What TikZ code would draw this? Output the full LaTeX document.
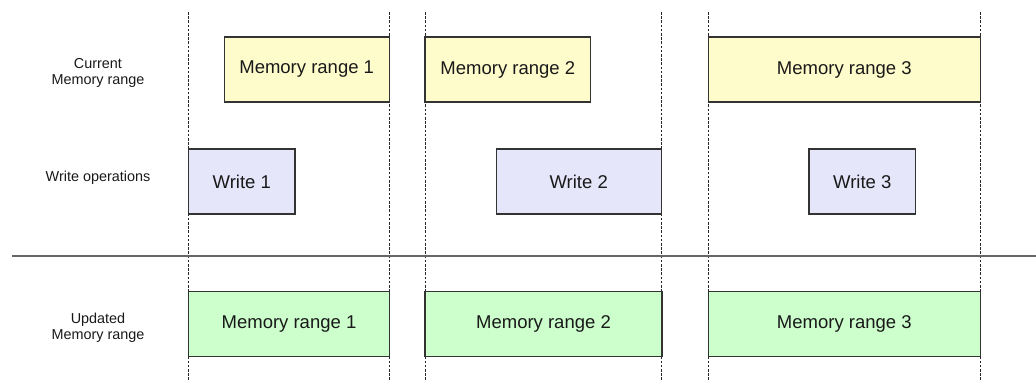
\documentclass[tikz,border=0pt]{standalone}
\usepackage{fontspec}
\setmainfont{Liberation Sans}
\begin{document}
\begin{tikzpicture}[x=1pt,y=-1pt,
  rangebox/.style={draw=black!80, line width=1.1pt, inner sep=0pt, minimum height=65pt,
    font=\fontsize{18.5}{22}\selectfont, text=black!90},
  current/.style={rangebox, fill=yellow!20},
  writeop/.style={rangebox, fill={rgb,255:red,230;green,230;blue,250}},
  updated/.style={rangebox, fill={rgb,255:red,204;green,255;blue,204}},
  rowlabel/.style={align=center, font=\fontsize{14.4}{15.6}\selectfont, text=black!90},
  guide/.style={black!85, line width=0.9pt, dash pattern=on 2.5pt off 1.7pt},
  divider/.style={black!60, line width=1.6pt}]
\useasboundingbox (0,0) rectangle (1036,383);

% column guides
\foreach \gx/\gn in {188.7/g1,389.3/g2,425/g3,661.5/g4,708.3/g5,980.3/g6}{
  \coordinate (\gn top) at (\gx,12);
  \coordinate (\gn bot) at (\gx,381);
  \draw[guide] (\gn top) -- (\gn bot);
}

% separator between inputs and result
\coordinate (sepL) at (12,255.7);
\coordinate (sepR) at (1036,255.7);
\draw[divider] (sepL) -- (sepR);

% row labels
\node[rowlabel] (lcur) at (98,73) {Current\\Memory range};
\node[rowlabel] (lwr) at (98,177.5) {Write operations};
\node[rowlabel] (lupd) at (98,327.5) {Updated\\Memory range};

% current memory ranges
\node[current, minimum width=165.3pt] (c1) at (306.7,69.5) {Memory range 1};
\node[current, minimum width=165.7pt] (c2) at (507.8,69.5) {Memory range 2};
\node[current, minimum width=272pt] (c3) at (844.3,69.5) {Memory range 3};

% write operations
\node[writeop, minimum width=106.3pt] (w1) at (241.8,181.5) {Write 1};
\node[writeop, minimum width=165.3pt] (w2) at (578.7,181.5) {Write 2};
\node[writeop, minimum width=106.7pt] (w3) at (862.3,181.5) {Write 3};

% updated memory ranges
\node[updated, minimum width=200.6pt] (u1) at (289,324) {Memory range 1};
\node[updated, minimum width=237pt] (u2) at (543.5,324) {Memory range 2};
\node[updated, minimum width=272pt] (u3) at (844.3,324) {Memory range 3};
\end{tikzpicture}
\end{document}
